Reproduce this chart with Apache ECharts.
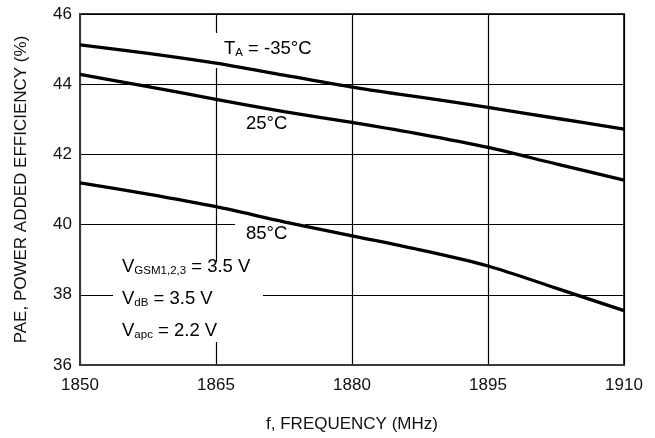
<!DOCTYPE html>
<html>
<head>
<meta charset="utf-8">
<style>html,body{margin:0;padding:0;background:#fff;}#c{width:655px;height:438px;}</style>
<script src="https://cdn.jsdelivr.net/npm/echarts@6/dist/echarts.min.js"></script>
</head>
<body>
<div id="c"></div>
<script>
// Data
const freq = [1850, 1857.5, 1865, 1872.5, 1880, 1887.5, 1895, 1902.5, 1910];
const paeM35 = [45.12, 44.88, 44.60, 44.26, 43.92, 43.63, 43.34, 43.03, 42.72];
const pae25  = [44.28, 43.93, 43.57, 43.22, 42.91, 42.58, 42.20, 41.73, 41.27];
const pae85  = [41.19, 40.87, 40.51, 40.08, 39.68, 39.28, 38.82, 38.19, 37.55];
const xTicks = [1850, 1865, 1880, 1895, 1910];
const yTicks = [36, 38, 40, 42, 44, 46];

const FONT = '"Liberation Sans", Arial, Helvetica, sans-serif';
const chart = echarts.init(document.getElementById('c'));
const pairs = ys => freq.map((f, i) => [f, ys[i]]);
const lineSeries = (name, ys) => ({
  name, type: 'line', data: pairs(ys), smooth: 0.3, symbol: 'none', z: 10,
  lineStyle: {color: '#000', width: 3.3}
});
const rich = {
  n: {fontSize: 18.5, fontFamily: FONT, color: '#111', lineHeight: 20, verticalAlign: 'top'},
  s: {fontSize: 11.5, fontFamily: FONT, color: '#111', lineHeight: 11, padding: [14, 0, 0, 0], verticalAlign: 'bottom'}
};
const txt = (x, y, text) => ({
  type: 'text', x, y, z: 20,
  style: {text, rich, x: 0, y: 0, verticalAlign: 'top', align: 'left'}
});
const box = (x, y, w, h) => ({
  type: 'rect', z: 5, shape: {x, y, width: w, height: h}, style: {fill: '#fff'}
});

chart.setOption({
  animation: false,
  backgroundColor: '#fff',
  grid: {left: 80, right: 31, top: 14, bottom: 73, show: true, borderColor: '#3a3a3a', borderWidth: 2},
  xAxis: {
    type: 'value', min: xTicks[0], max: xTicks[xTicks.length - 1], interval: 15,
    name: 'f, FREQUENCY (MHz)', nameLocation: 'middle', nameGap: 51,
    nameTextStyle: {fontSize: 17, fontFamily: FONT, color: '#111'},
    axisLine: {lineStyle: {color: '#3a3a3a', width: 2}},
    axisTick: {show: false},
    axisLabel: {fontSize: 17, fontFamily: FONT, color: '#111', margin: 12, formatter: v => String(v)},
    splitLine: {lineStyle: {color: '#000', width: 1.2}}
  },
  yAxis: {
    type: 'value', min: yTicks[0], max: yTicks[yTicks.length - 1], interval: 2,
    name: 'PAE, POWER ADDED EFFICIENCY (%)', nameLocation: 'middle', nameGap: 50,
    nameTextStyle: {fontSize: 17, fontFamily: FONT, color: '#111'},
    axisLine: {lineStyle: {color: '#3a3a3a', width: 2}},
    axisTick: {show: false},
    axisLabel: {fontSize: 17, fontFamily: FONT, color: '#111', margin: 8},
    splitLine: {lineStyle: {color: '#000', width: 1.2}}
  },
  series: [
    lineSeries('TA = -35°C', paeM35),
    lineSeries('25°C', pae25),
    lineSeries('85°C', pae85)
  ],
  graphic: {elements: [
    box(206, 33, 112, 35),
    box(240, 112, 56, 24),
    box(235, 220, 70, 26),
    box(113, 262, 150, 80),
    txt(224, 39, '{n|T}{s|A}{n| = -35°C}'),
    txt(246, 114, '{n|25°C}'),
    txt(246, 224, '{n|85°C}'),
    txt(122, 257, '{n|V}{s|GSM1,2,3}{n| = 3.5 V}'),
    txt(122, 289, '{n|V}{s|dB}{n| = 3.5 V}'),
    txt(122, 321, '{n|V}{s|apc}{n| = 2.2 V}')
  ]}
});
</script>
</body>
</html>
